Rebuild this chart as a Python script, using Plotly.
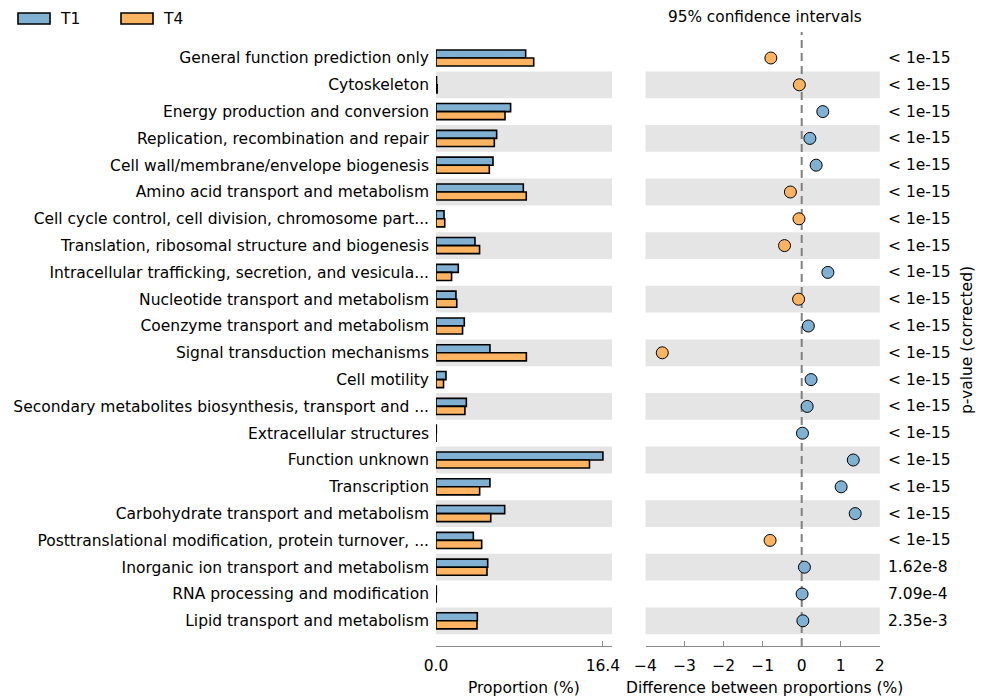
import plotly.graph_objects as go

# COG functional categories (top to bottom)
categories = [
    "General function prediction only",
    "Cytoskeleton",
    "Energy production and conversion",
    "Replication, recombination and repair",
    "Cell wall/membrane/envelope biogenesis",
    "Amino acid transport and metabolism",
    "Cell cycle control, cell division, chromosome part...",
    "Translation, ribosomal structure and biogenesis",
    "Intracellular trafficking, secretion, and vesicula...",
    "Nucleotide transport and metabolism",
    "Coenzyme transport and metabolism",
    "Signal transduction mechanisms",
    "Cell motility",
    "Secondary metabolites biosynthesis, transport and ...",
    "Extracellular structures",
    "Function unknown",
    "Transcription",
    "Carbohydrate transport and metabolism",
    "Posttranslational modification, protein turnover, ...",
    "Inorganic ion transport and metabolism",
    "RNA processing and modification",
    "Lipid transport and metabolism",
]

# Mean proportions (%) per group
t1_values = [8.81, 0.05, 7.33, 5.96, 5.60, 8.58, 0.79, 3.83, 2.19, 1.96, 2.78,
             5.30, 0.98, 2.98, 0.03, 16.40, 5.30, 6.75, 3.67, 5.08, 0.03, 4.06]
t4_values = [9.60, 0.11, 6.78, 5.73, 5.24, 8.87, 0.86, 4.28, 1.53, 2.04, 2.61,
             8.88, 0.74, 2.84, 0.01, 15.08, 4.29, 5.38, 4.49, 5.01, 0.02, 4.03]

# Difference between proportions (T1 - T4, %)
diff_values = [-0.79, -0.06, 0.54, 0.21, 0.37, -0.29, -0.07, -0.44, 0.67, -0.08, 0.17,
               -3.57, 0.24, 0.14, 0.02, 1.32, 1.01, 1.37, -0.81, 0.07, 0.01, 0.03]

# Corrected p-values
p_values = ["< 1e-15"] * 19 + ["1.62e-8", "7.09e-4", "2.35e-3"]

group_names = ["T1", "T4"]
diff_ticks = [-4, -3, -2, -1, 0, 1, 2]
prop_ticks = [0.0, 16.4]
prop_tick_labels = ["0.0", "16.4"]

BLUE = "#80B1D3"
ORANGE = "#FDB462"
BAND = "#E5E5E5"
AXIS = "#888888"
FONT = "DejaVu Sans"
FS = 15.5

W, H = 983, 697


def fx(p):
    return p / W


def fy(p):
    return 1 - p / H


n = len(categories)
rows = list(range(n))

fig = go.Figure()

fig.add_trace(go.Bar(
    x=t1_values, y=rows, orientation="h", name=group_names[0],
    marker=dict(color=BLUE, line=dict(color="black", width=1.6)),
    xaxis="x", yaxis="y", showlegend=False,
))
fig.add_trace(go.Bar(
    x=t4_values, y=rows, orientation="h", name=group_names[1],
    marker=dict(color=ORANGE, line=dict(color="black", width=1.6)),
    xaxis="x", yaxis="y", showlegend=False,
))

fig.add_trace(go.Scatter(
    x=diff_values, y=rows, mode="markers",
    marker=dict(size=12, color=[BLUE if d > 0 else ORANGE for d in diff_values],
                line=dict(color="black", width=1)),
    xaxis="x2", yaxis="y", showlegend=False,
))

shapes = []
# alternating background bands in both panels
for r in rows:
    if r % 2 == 1:
        for xr in ("x domain", "x2 domain"):
            shapes.append(dict(type="rect", xref=xr, yref="y", x0=0, x1=1,
                               y0=r - 0.5, y1=r + 0.5, fillcolor=BAND,
                               line=dict(width=0), layer="below"))
# zero reference line
shapes.append(dict(type="line", xref="x2", yref="y domain", x0=0, x1=0, y0=0, y1=1,
                   line=dict(color="#808080", width=2, dash="8px,5px"), layer="below"))

# legend swatches
legend_x = [18, 121]
for i, (name, col) in enumerate(zip(group_names, [BLUE, ORANGE])):
    shapes.append(dict(type="rect", xref="paper", yref="paper",
                       x0=fx(legend_x[i]), x1=fx(legend_x[i] + 32),
                       y0=fy(24), y1=fy(13), fillcolor=col,
                       line=dict(color="black", width=1.6)))

annotations = []
for i, name in enumerate(group_names):
    annotations.append(dict(x=fx(legend_x[i] + 40), y=fy(19), xref="paper", yref="paper",
                            text=name, showarrow=False, xanchor="left", yanchor="middle",
                            font=dict(family=FONT, size=FS, color="black")))

for r, p in zip(rows, p_values):
    annotations.append(dict(x=fx(886), y=r, xref="paper", yref="y", text=p,
                            showarrow=False, xanchor="left", yanchor="middle",
                            font=dict(family=FONT, size=FS, color="black")))

annotations += [
    dict(x=fx(765), y=fy(17), xref="paper", yref="paper", text="95% confidence intervals",
         showarrow=False, xanchor="center", yanchor="middle",
         font=dict(family=FONT, size=15.3, color="black")),
    dict(x=fx(524), y=fy(688), xref="paper", yref="paper", text="Proportion (%)",
         showarrow=False, xanchor="center", yanchor="middle",
         font=dict(family=FONT, size=FS, color="black")),
    dict(x=fx(764), y=fy(688), xref="paper", yref="paper",
         text="Difference between proportions (%)",
         showarrow=False, xanchor="center", yanchor="middle",
         font=dict(family=FONT, size=FS, color="black")),
    dict(x=fx(967), y=fy(340), xref="paper", yref="paper", text="p-value (corrected)",
         showarrow=False, xanchor="center", yanchor="middle", textangle=-90,
         font=dict(family=FONT, size=FS, color="black")),
]

# row centre 0 at 58px, 26.8px per row; plot spans 32px .. 646px
row0, step = 58.0, 26.8
y_top_px, y_bot_px = 32.0, 646.0
y_range = [(y_bot_px - row0) / step, (y_top_px - row0) / step]

fig.update_layout(
    width=W, height=H,
    margin=dict(l=0, r=0, t=0, b=0),
    paper_bgcolor="white", plot_bgcolor="white",
    barmode="group", bargap=0.4, bargroupgap=0.0,
    font=dict(family=FONT, size=FS, color="black"),
    shapes=shapes, annotations=annotations,
    xaxis=dict(
        domain=[fx(436), fx(612)], range=[0, 176 / (166.9 / 16.4)],
        anchor="y", tickvals=prop_ticks, ticktext=prop_tick_labels,
        ticks="inside", ticklen=5, tickcolor=AXIS, tickwidth=1,
        showline=True, linecolor=AXIS, linewidth=1, showgrid=False, zeroline=False,
        ticklabelstandoff=5,
        tickfont=dict(family=FONT, size=FS, color="black"), automargin=False,
    ),
    xaxis2=dict(
        domain=[fx(645.5), fx(879.8)], range=[-4, 2],
        anchor="y", tickvals=diff_ticks,
        ticks="inside", ticklen=5, tickcolor=AXIS, tickwidth=1,
        showline=True, linecolor=AXIS, linewidth=1, showgrid=False, zeroline=False,
        ticklabelstandoff=5,
        tickfont=dict(family=FONT, size=FS, color="black"), automargin=False,
    ),
    yaxis=dict(
        domain=[fy(y_bot_px), fy(y_top_px)], range=y_range,
        anchor="x", tickvals=rows, ticktext=categories,
        ticks="", showline=False, showgrid=False, zeroline=False,
        ticklabelstandoff=6,
        tickfont=dict(family=FONT, size=FS, color="black"), automargin=False,
    ),
)

fig.write_html("out.html")
